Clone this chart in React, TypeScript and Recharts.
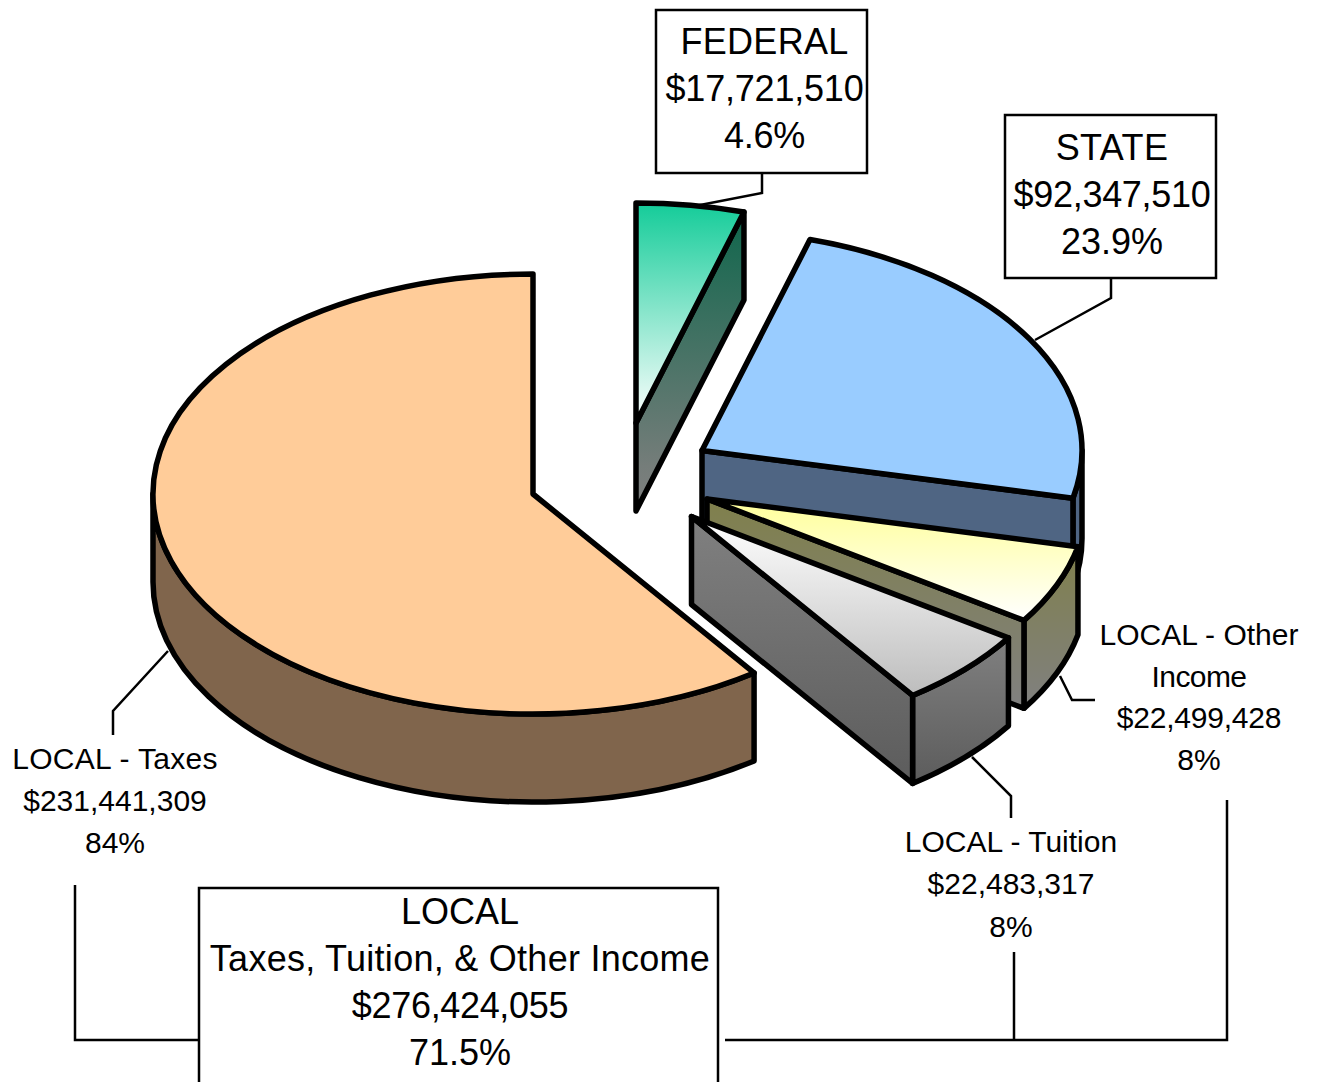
import React from 'react'
import { PieChart, Pie } from 'recharts'

// drawn back to front, clockwise from 12 o'clock
const sliceNames = ['FEDERAL', 'STATE', 'LOCAL - Other Income', 'LOCAL - Tuition', 'LOCAL - Taxes']
const sliceValues = [17721510, 92347510, 22499428, 22483317, 231441309]

const federalLabel = ['FEDERAL', '$17,721,510', '4.6%']
const stateLabel = ['STATE', '$92,347,510', '23.9%']
const localLabel = ['LOCAL', 'Taxes, Tuition, & Other Income', '$276,424,055', '71.5%']
const otherLabel = ['LOCAL - Other', 'Income', '$22,499,428', '8%']
const tuitionLabel = ['LOCAL - Tuition', '$22,483,317', '8%']
const taxesLabel = ['LOCAL - Taxes', '$231,441,309', '84%']

const RX = 380
const RY = 220
const DEPTH = 88
const INK = '#000'

// how far each slice is pulled out of the pie, in px
const offsets: Record<string, [number, number]> = {
  FEDERAL: [104, -72],
  STATE: [170, -44.5],
  'LOCAL - Other Income': [175, 4],
  'LOCAL - Tuition': [159.5, 21.5],
  'LOCAL - Taxes': [1, -1],
}

const fills: Record<string, { top: string; wall: string; side: string }> = {
  FEDERAL: { top: 'url(#fedTop)', wall: 'url(#fedSide)', side: 'url(#fedSide)' },
  STATE: { top: '#99ccff', wall: '#4f6583', side: '#4f6583' },
  'LOCAL - Other Income': { top: 'url(#otherTop)', wall: 'url(#otherSide)', side: 'url(#otherSide)' },
  'LOCAL - Tuition': { top: 'url(#tuitionTop)', wall: 'url(#tuitionSide)', side: 'url(#tuitionSide)' },
  'LOCAL - Taxes': { top: '#ffcc99', wall: '#80654c', side: '#80654c' },
}

// the reference text is hinted, so some lines run a touch wider or narrower
const lineSpacing: Record<string, number> = {
  FEDERAL: 0.3,
  STATE: 0.4,
  '$17,721,510': -0.2,
  '$92,347,510': -0.3,
  '4.6%': -0.25,
  'Taxes, Tuition, & Other Income': 0.27,
  '$276,424,055': -0.33,
  Income: -0.6,
  '$22,499,428': -0.2,
  'LOCAL - Taxes': 0.3,
}

const Slice3D = (props: any) => {
  const { cx, cy, startAngle, endAngle, index } = props
  const name = sliceNames[index]
  const [ox, oy] = offsets[name]
  const style = fills[name]
  const x0 = cx + ox
  const y0 = cy + oy
  const px = (deg: number) => x0 + RX * Math.cos((deg * Math.PI) / 180)
  const py = (deg: number) => y0 - RY * Math.sin((deg * Math.PI) / 180)
  const big = startAngle - endAngle > 180 ? 1 : 0
  const common = { stroke: INK, strokeWidth: 5.5, strokeLinejoin: 'round' as const }

  // outer rim only shows on the front half (recharts angles 0 to -180)
  const rimFrom = Math.min(startAngle, 0)
  const rimTo = Math.max(endAngle, -180)
  const hasRim = rimFrom > rimTo
  const rimBig = rimFrom - rimTo > 180 ? 1 : 0
  const rim = hasRim
    ? `M${px(rimFrom)},${py(rimFrom)} A${RX},${RY} 0 ${rimBig} 1 ${px(rimTo)},${py(rimTo)} ` +
      `L${px(rimTo)},${py(rimTo) + DEPTH} A${RX},${RY} 0 ${rimBig} 0 ${px(rimFrom)},${py(rimFrom) + DEPTH} Z`
    : ''

  // the cut face at the end of the sweep faces the viewer when it sits on the right side
  const showWall = Math.cos((endAngle * Math.PI) / 180) > 0.01
  const wall = `M${x0},${y0} L${px(endAngle)},${py(endAngle)} L${px(endAngle)},${py(endAngle) + DEPTH} L${x0},${y0 + DEPTH} Z`

  const top =
    `M${x0},${y0} L${px(startAngle)},${py(startAngle)} ` +
    `A${RX},${RY} 0 ${big} 1 ${px(endAngle)},${py(endAngle)} Z`

  return (
    <g>
      {hasRim && <path d={rim} fill={style.side} {...common} />}
      {showWall && <path d={wall} fill={style.wall} {...common} />}
      <path d={top} fill={style.top} {...common} />
    </g>
  )
}

const Leader = ({ d }: { d: string }) => <path d={d} fill="none" stroke={INK} strokeWidth={2.5} />

const TextBlock = ({ lines, x, y, step, size }: { lines: string[]; x: number; y: number; step: number; size: number }) => (
  <text textAnchor="middle" fontFamily="'Liberation Sans', Arial, sans-serif" fontSize={size} fill={INK}>
    {lines.map((line, i) => (
      <tspan key={line} x={x} y={y + i * step} letterSpacing={lineSpacing[line] ?? 0}>{line}</tspan>
    ))}
  </text>
)

const Box = ({ x, y, w, h }: { x: number; y: number; w: number; h: number }) => (
  <rect x={x} y={y} width={w} height={h} fill="#fff" stroke={INK} strokeWidth={2.5} />
)

export default function App() {
  const chartData = sliceNames.map((name, i) => ({ name, value: sliceValues[i] }))

  return (
    <div style={{ position: 'absolute', left: 0, top: 0, width: 1317, height: 1082, background: '#fff', overflow: 'hidden' }}>
      <PieChart width={1317} height={1082} margin={{ top: 0, right: 0, bottom: 0, left: 0 }}>
        <defs>
          <linearGradient id="fedTop" x1="0" y1="0" x2="0" y2="1">
            <stop offset="0" stopColor="#14cc99" />
            <stop offset="1" stopColor="#ffffff" />
          </linearGradient>
          <linearGradient id="fedSide" x1="0" y1="0" x2="0" y2="1">
            <stop offset="0" stopColor="#0f664c" />
            <stop offset="0.85" stopColor="#757d7a" />
            <stop offset="1" stopColor="#808080" />
          </linearGradient>
          <linearGradient id="otherTop" x1="0" y1="0" x2="0" y2="1">
            <stop offset="0" stopColor="#ffff99" />
            <stop offset="1" stopColor="#ffffff" />
          </linearGradient>
          <linearGradient id="otherSide" x1="0" y1="0" x2="0" y2="1">
            <stop offset="0" stopColor="#80804c" />
            <stop offset="1" stopColor="#808080" />
          </linearGradient>
          <linearGradient id="tuitionTop" x1="0" y1="0" x2="0" y2="1">
            <stop offset="0" stopColor="#ffffff" />
            <stop offset="1" stopColor="#bdbdbd" />
          </linearGradient>
          <linearGradient id="tuitionSide" x1="0" y1="0" x2="0" y2="1">
            <stop offset="0" stopColor="#808080" />
            <stop offset="1" stopColor="#5c5c5c" />
          </linearGradient>
        </defs>

        <Pie
          data={chartData}
          dataKey="value"
          nameKey="name"
          cx={532}
          cy={495}
          outerRadius={RX}
          startAngle={90}
          endAngle={-270}
          stroke="none"
          shape={Slice3D}
          isAnimationActive={false}
          labelLine={false}
          label={false}
        />

        {/* leader lines */}
        <Leader d="M762,173 L762,193 L695,206" />
        <Leader d="M1111,278 L1111,298 L1035,340" />
        <Leader d="M1060,676 L1072,700 L1095,700" />
        <Leader d="M972,757 L1011,796 L1011,818" />
        <Leader d="M168,651 L113,711 L113,735" />
        {/* bracket under the three local slices */}
        <Leader d="M75,885 L75,1040 L199,1040" />
        <Leader d="M725,1040 L1227,1040 L1227,800" />
        <Leader d="M1014,952 L1014,1040" />

        <Box x={656} y={10} w={211} h={163} />
        <Box x={1005} y={115} w={211} h={163} />
        <Box x={199} y={888} w={519} h={200} />

        <TextBlock lines={federalLabel} x={764.5} y={54} step={47} size={36} />
        <TextBlock lines={stateLabel} x={1112} y={159.5} step={47} size={36} />
        <TextBlock lines={localLabel} x={460} y={924} step={47} size={36} />
        <TextBlock lines={otherLabel} x={1199} y={645} step={41.7} size={30} />
        <TextBlock lines={tuitionLabel} x={1011} y={852} step={42.3} size={30} />
        <TextBlock lines={taxesLabel} x={115} y={769} step={42} size={30} />
      </PieChart>
    </div>
  )
}
